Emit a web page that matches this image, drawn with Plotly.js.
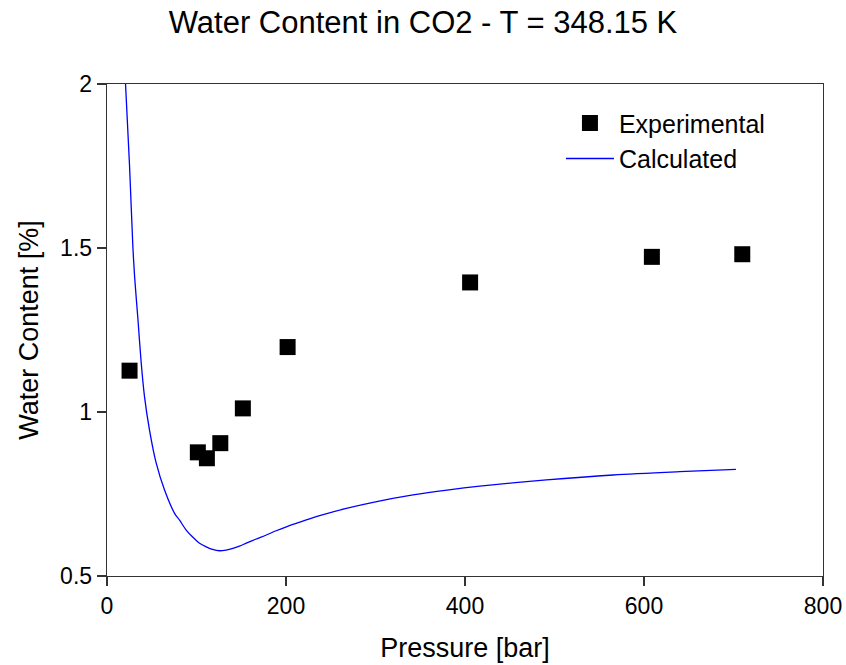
<!DOCTYPE html>
<html>
<head>
<meta charset="utf-8">
<script src="https://cdn.plot.ly/plotly-3.0.1.min.js"></script>
<style>html,body{margin:0;padding:0;background:#fff}#chart{width:846px;height:665px}</style>
</head>
<body>
<div id="chart"></div>
<script>
// Experimental data
var expPressure = [25.2, 101.5, 111.6, 126.6, 151.8, 201.8, 405.7, 608.8, 709.8];
var expWater    = [1.126, 0.877, 0.859, 0.905, 1.011, 1.198, 1.395, 1.473, 1.481];

// Calculated curve
var calcPressure = [20.7, 25.2, 28.9, 30.9, 34.5, 38.2, 41.9, 47.5, 55.0, 64.3, 75.5, 81.1, 88.5, 96.0, 103.4, 110.9, 118.0, 125.8, 133.0, 140.7, 148.0, 155.6, 166.0, 178.0, 189.0, 200.4, 222.7, 237.6, 267.4, 300.0, 341.9, 380.0, 416.5, 491.0, 565.5, 640.0, 702.7];
var calcWater    = [2.000, 1.750, 1.504, 1.410, 1.285, 1.150, 1.047, 0.945, 0.844, 0.762, 0.691, 0.670, 0.640, 0.618, 0.600, 0.589, 0.581, 0.577, 0.579, 0.584, 0.591, 0.600, 0.612, 0.625, 0.638, 0.650, 0.671, 0.684, 0.706, 0.726, 0.747, 0.762, 0.774, 0.793, 0.808, 0.818, 0.825];

var xTicks = [0, 200, 400, 600, 800];
var yTicks = [0.5, 1, 1.5, 2];
var yTickText = ['0.5', '1', '1.5', '2'];

var font = 'Liberation Sans, Arial, sans-serif';

var traces = [
  {
    x: expPressure, y: expWater, mode: 'markers', type: 'scatter', name: 'Experimental',
    marker: {symbol: 'square', size: 16, color: '#000000', line: {width: 0}}
  },
  {
    x: calcPressure, y: calcWater, mode: 'lines', type: 'scatter', name: 'Calculated',
    line: {color: '#0000ff', width: 1.3, shape: 'spline', smoothing: 0.8}
  }
];

var axisCommon = {
  showgrid: false, zeroline: false, showline: true, mirror: true,
  linecolor: '#333333', linewidth: 1.3, ticks: 'outside', ticklen: 9, tickwidth: 1.3,
  tickcolor: '#333333', tickfont: {family: font, size: 23, color: '#000'}
};

var layout = {
  width: 846, height: 665,
  margin: {l: 107, r: 23, t: 84, b: 89},
  paper_bgcolor: '#ffffff', plot_bgcolor: '#ffffff',
  title: {text: 'Water Content in CO2 - T = 348.15 K', font: {family: font, size: 31, color: '#000'}, x: 0.5, xanchor: 'center', y: 0.967, yanchor: 'middle'},
  xaxis: Object.assign({}, axisCommon, {
    range: [0, 800], tickvals: xTicks, ticktext: xTicks.map(String),
    title: {text: 'Pressure [bar]', font: {family: font, size: 27, color: '#000'}, standoff: 20}
  }),
  yaxis: Object.assign({}, axisCommon, {
    range: [0.5, 2], tickvals: yTicks, ticktext: yTickText,
    title: {text: 'Water Content [%]', font: {family: font, size: 27, color: '#000'}, standoff: 13}
  }),
  showlegend: true,
  legend: {
    x: 0.634, y: 0.967, xanchor: 'left', yanchor: 'top',
    bgcolor: 'rgba(0,0,0,0)', borderwidth: 0,
    font: {family: font, size: 25, color: '#000'},
    itemwidth: 48, tracegroupgap: 0
  }
};

Plotly.newPlot('chart', traces, layout, {displayModeBar: false, staticPlot: true});
</script>
</body>
</html>
